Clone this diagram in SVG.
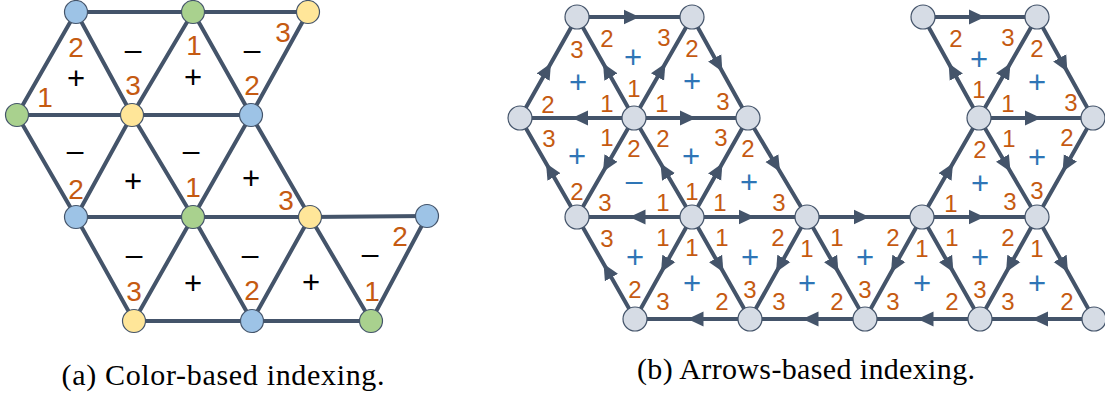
<svg xmlns="http://www.w3.org/2000/svg" width="1105" height="396" viewBox="0 0 1105 396">
<style>
.e{stroke:#44546A;stroke-width:4;fill:none;stroke-linecap:round}
.a path{marker-mid:url(#arr)}
.n{stroke:#44546A;stroke-width:1.2}
.nb{fill:#9DC3E6}.ng{fill:#A9D18E}.ny{fill:#FFE699}.nr{fill:#D6DCE5}
.d{font-family:"Liberation Sans",Arial,sans-serif;fill:#C55A11;text-anchor:middle}
.dl{font-size:28px}.dr{font-size:24px}
.s{font-family:"Liberation Sans",Arial,sans-serif;text-anchor:middle}
.sk{fill:#000}.sb{fill:#2E75B6}
.p{font-size:31px}.m{font-size:30px}
.cap{font-family:"Liberation Serif","Times New Roman",serif;font-size:30px;fill:#000;text-anchor:middle}
</style>
<defs>
<marker id="arr" viewBox="0 0 17 16" refX="11" refY="8" markerWidth="17" markerHeight="16" markerUnits="userSpaceOnUse" orient="auto">
<path d="M0,0.5 L16,8 L0,15.5 z" fill="#44546A"/>
</marker>
</defs>
<rect width="1105" height="396" fill="#fff"/>

<!-- (a) connectors -->
<g id="connectors-a" class="e">
<path d="M76,12 L308,12"/>
<path d="M17,115 L251,115"/>
<path d="M76,217 L310,217 L427,216"/>
<path d="M134,321 L371,321"/>
<path d="M76,12 L17,115"/><path d="M193,12 L132,115"/><path d="M308,12 L251,115"/>
<path d="M132,115 L76,217"/><path d="M251,115 L193,217"/>
<path d="M193,217 L134,321"/><path d="M310,217 L252,321"/><path d="M427,216 L371,321"/>
<path d="M76,12 L132,115"/><path d="M193,12 L251,115"/>
<path d="M17,115 L76,217"/><path d="M132,115 L193,217"/><path d="M251,115 L310,217"/>
<path d="M76,217 L134,321"/><path d="M193,217 L252,321"/><path d="M310,217 L371,321"/>
</g>

<!-- (b) connectors -->
<g id="connectors-b" class="e a">
<path d="M577,17 L634.5,17 L692,17"/>
<path d="M634,118 L605.5,67.5 L577,17"/>
<path d="M634,118 L663,67.5 L692,17"/>
<path d="M520,118 L548.5,67.5 L577,17"/>
<path d="M634,118 L577,118 L520,118"/>
<path d="M634,118 L691,118 L748,118"/>
<path d="M692,17 L720,67.5 L748,118"/>
<path d="M634,118 L605.5,167.5 L577,217"/>
<path d="M692,217 L663,167.5 L634,118"/>
<path d="M692,217 L720,167.5 L748,118"/>
<path d="M748,118 L777.5,167.5 L807,217"/>
<path d="M577,217 L548.5,167.5 L520,118"/>
<path d="M692,217 L634.5,217 L577,217"/>
<path d="M692,217 L663.5,268 L635,319"/>
<path d="M635,319 L606,268 L577,217"/>
<path d="M692,217 L721,268 L750,319"/>
<path d="M750,319 L692.5,319 L635,319"/>
<path d="M692,217 L749.5,217 L807,217"/>
<path d="M807,217 L778.5,268 L750,319"/>
<path d="M807,217 L836,268 L865,319"/>
<path d="M865,319 L807.5,319 L750,319"/>
<path d="M807,217 L864.5,217 L922,217"/>
<path d="M922,217 L893.5,268 L865,319"/>
<path d="M922,217 L951,268 L980,319"/>
<path d="M980,319 L922.5,319 L865,319"/>
<path d="M922,217 L979.5,217 L1037,217"/>
<path d="M1037,217 L1008.5,268 L980,319"/>
<path d="M1037,217 L1065.5,268 L1094,319"/>
<path d="M1094,319 L1037,319 L980,319"/>
<path d="M923,17 L980,17 L1037,17"/>
<path d="M979,118 L951,67.5 L923,17"/>
<path d="M979,118 L1008,67.5 L1037,17"/>
<path d="M1037,17 L1065,67.5 L1093,118"/>
<path d="M979,118 L1036,118 L1093,118"/>
<path d="M922,217 L950.5,167.5 L979,118"/>
<path d="M979,118 L1008,167.5 L1037,217"/>
<path d="M1093,118 L1065,167.5 L1037,217"/>
</g>

<!-- (a) nodes -->
<g id="a-n1"><circle class="n nb" cx="76" cy="12" r="11.5"/></g>
<g id="a-n2"><circle class="n ng" cx="193" cy="12" r="11.5"/></g>
<g id="a-n3"><circle class="n ny" cx="308" cy="12" r="11.5"/></g>
<g id="a-n4"><circle class="n ng" cx="17" cy="115" r="11.5"/></g>
<g id="a-n5"><circle class="n ny" cx="132" cy="115" r="11.5"/></g>
<g id="a-n6"><circle class="n nb" cx="251" cy="115" r="11.5"/></g>
<g id="a-n7"><circle class="n nb" cx="76" cy="217" r="11.5"/></g>
<g id="a-n8"><circle class="n ng" cx="193" cy="217" r="11.5"/></g>
<g id="a-n9"><circle class="n ny" cx="310" cy="217" r="11.5"/></g>
<g id="a-n10"><circle class="n nb" cx="427" cy="216" r="11.5"/></g>
<g id="a-n11"><circle class="n ny" cx="134" cy="321" r="11.5"/></g>
<g id="a-n12"><circle class="n nb" cx="252" cy="321" r="11.5"/></g>
<g id="a-n13"><circle class="n ng" cx="371" cy="321" r="11.5"/></g>

<!-- (b) nodes -->
<g id="b-A"><circle class="n nr" cx="577" cy="17" r="12"/></g>
<g id="b-B"><circle class="n nr" cx="692" cy="17" r="12"/></g>
<g id="b-C"><circle class="n nr" cx="923" cy="17" r="12"/></g>
<g id="b-D"><circle class="n nr" cx="1037" cy="17" r="12"/></g>
<g id="b-E"><circle class="n nr" cx="520" cy="118" r="12"/></g>
<g id="b-F"><circle class="n nr" cx="634" cy="118" r="12"/></g>
<g id="b-G"><circle class="n nr" cx="748" cy="118" r="12"/></g>
<g id="b-H"><circle class="n nr" cx="979" cy="118" r="12"/></g>
<g id="b-I"><circle class="n nr" cx="1093" cy="118" r="12"/></g>
<g id="b-J"><circle class="n nr" cx="577" cy="217" r="12"/></g>
<g id="b-K"><circle class="n nr" cx="692" cy="217" r="12"/></g>
<g id="b-L"><circle class="n nr" cx="807" cy="217" r="12"/></g>
<g id="b-M"><circle class="n nr" cx="922" cy="217" r="12"/></g>
<g id="b-N"><circle class="n nr" cx="1037" cy="217" r="12"/></g>
<g id="b-O"><circle class="n nr" cx="635" cy="319" r="12"/></g>
<g id="b-P"><circle class="n nr" cx="750" cy="319" r="12"/></g>
<g id="b-Q"><circle class="n nr" cx="865" cy="319" r="12"/></g>
<g id="b-R"><circle class="n nr" cx="980" cy="319" r="12"/></g>
<g id="b-S"><circle class="n nr" cx="1094" cy="319" r="12"/></g>

<!-- (a) labels -->
<g id="labels-a">
<text class="d dl" x="76" y="57">2</text>
<text class="s sk p" x="76" y="89">+</text>
<text class="d dl" x="45" y="107">1</text>
<text class="s sk m" x="133" y="60">–</text>
<text class="d dl" x="133" y="95">3</text>
<text class="d dl" x="194" y="55">1</text>
<text class="s sk p" x="193" y="88">+</text>
<text class="d dl" x="283" y="42">3</text>
<text class="s sk m" x="252" y="60">–</text>
<text class="d dl" x="252" y="95">2</text>
<text class="s sk m" x="75" y="161">–</text>
<text class="d dl" x="76" y="199">2</text>
<text class="s sk p" x="133" y="192">+</text>
<text class="s sk m" x="191" y="161">–</text>
<text class="d dl" x="193" y="197">1</text>
<text class="s sk p" x="251" y="189">+</text>
<text class="d dl" x="286" y="210">3</text>
<text class="s sk m" x="134" y="265">–</text>
<text class="d dl" x="134" y="301">3</text>
<text class="s sk p" x="193" y="294">+</text>
<text class="s sk m" x="250" y="265">–</text>
<text class="d dl" x="252" y="300">2</text>
<text class="s sk p" x="311" y="293">+</text>
<text class="s sk m" x="370" y="264">–</text>
<text class="d dl" x="372" y="301">1</text>
<text class="d dl" x="400" y="246">2</text>
</g>

<!-- (b) labels -->
<g id="labels-b">
<text class="d dr" x="607" y="47">2</text><text class="d dr" x="664" y="46">3</text><text class="d dr" x="634" y="97">1</text><text class="s sb p" x="633" y="68">+</text>
<text class="d dr" x="577" y="58">3</text><text class="d dr" x="548" y="113">2</text><text class="d dr" x="607" y="112">1</text><text class="s sb p" x="578" y="93">+</text>
<text class="d dr" x="692" y="57">2</text><text class="d dr" x="662" y="112">1</text><text class="d dr" x="723" y="110">3</text><text class="s sb p" x="692" y="92">+</text>
<text class="d dr" x="549" y="147">3</text><text class="d dr" x="607" y="146">1</text><text class="d dr" x="577" y="200">2</text><text class="s sb p" x="577" y="167">+</text>
<text class="d dr" x="634" y="157">2</text><text class="d dr" x="605" y="211">3</text><text class="d dr" x="663" y="211">1</text><text class="s sb m" x="634" y="191">–</text>
<text class="d dr" x="663" y="147">2</text><text class="d dr" x="721" y="146">3</text><text class="d dr" x="692" y="200">1</text><text class="s sb p" x="691" y="167">+</text>
<text class="d dr" x="748" y="157">2</text><text class="d dr" x="720" y="211">1</text><text class="d dr" x="779" y="211">3</text><text class="s sb p" x="749" y="193">+</text>
<text class="d dr" x="607" y="247">3</text><text class="d dr" x="663" y="246">1</text><text class="d dr" x="635" y="298">2</text><text class="s sb p" x="635" y="268">+</text>
<text class="d dr" x="692" y="256">1</text><text class="d dr" x="663" y="310">3</text><text class="d dr" x="722" y="310">2</text><text class="s sb p" x="692" y="294">+</text>
<text class="d dr" x="722" y="246">1</text><text class="d dr" x="778" y="246">2</text><text class="d dr" x="750" y="298">3</text><text class="s sb p" x="750" y="268">+</text>
<text class="d dr" x="807" y="257">1</text><text class="d dr" x="779" y="310">3</text><text class="d dr" x="837" y="310">2</text><text class="s sb p" x="807" y="294">+</text>
<text class="d dr" x="837" y="246">1</text><text class="d dr" x="893" y="246">2</text><text class="d dr" x="865" y="298">3</text><text class="s sb p" x="865" y="268">+</text>
<text class="d dr" x="922" y="257">1</text><text class="d dr" x="893" y="310">3</text><text class="d dr" x="952" y="310">2</text><text class="s sb p" x="922" y="294">+</text>
<text class="d dr" x="952" y="246">1</text><text class="d dr" x="1008" y="246">2</text><text class="d dr" x="980" y="298">3</text><text class="s sb p" x="980" y="268">+</text>
<text class="d dr" x="1037" y="257">1</text><text class="d dr" x="1008" y="310">3</text><text class="d dr" x="1067" y="310">2</text><text class="s sb p" x="1037" y="294">+</text>
<text class="d dr" x="956" y="47">2</text><text class="d dr" x="1008" y="46">3</text><text class="d dr" x="979" y="98">1</text><text class="s sb p" x="979" y="70">+</text>
<text class="d dr" x="1037" y="57">2</text><text class="d dr" x="1008" y="112">1</text><text class="d dr" x="1071" y="111">3</text><text class="s sb p" x="1037" y="93">+</text>
<text class="d dr" x="980" y="158">2</text><text class="d dr" x="951" y="212">1</text><text class="d dr" x="1010" y="210">3</text><text class="s sb p" x="980" y="194">+</text>
<text class="d dr" x="1009" y="147">1</text><text class="d dr" x="1067" y="146">2</text><text class="d dr" x="1037" y="199">3</text><text class="s sb p" x="1037" y="168">+</text>
</g>

<!-- captions -->
<text class="cap" x="223" y="385" textLength="323" lengthAdjust="spacing">(a) Color-based indexing.</text>
<text class="cap" x="806" y="379" textLength="338" lengthAdjust="spacing">(b) Arrows-based indexing.</text>
</svg>
